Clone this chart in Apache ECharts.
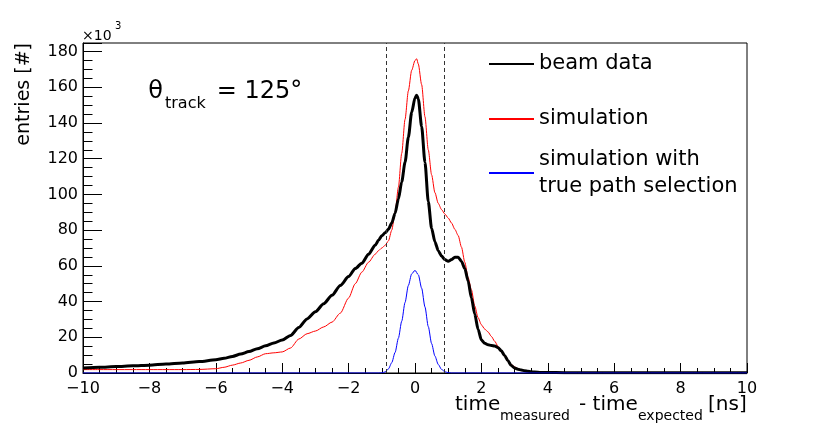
<!DOCTYPE html>
<html>
<head>
<meta charset="utf-8">
<script src="https://cdn.jsdelivr.net/npm/echarts@6.0.0/dist/echarts.min.js"></script>
<style>
html,body{margin:0;padding:0;background:#fff;}
#chart{width:830px;height:429px;}
</style>
</head>
<body>
<div id="chart"></div>
<script>
// time bins (ns)
const xBins = [-10, -9.5, -9, -8.5, -8, -7.5, -7, -6.5, -6, -5.75,
  -5.5, -5.25, -5, -4.75, -4.5, -4.25, -4, -3.75, -3.5, -3.25, -3, -2.75, -2.5, -2.25, -2,
  -1.8, -1.6, -1.4, -1.2, -1.1,
  -1.0, -0.9, -0.8, -0.7, -0.6, -0.5, -0.4, -0.3, -0.2, -0.1,
  0, 0.05,
  0.1, 0.2, 0.3, 0.4, 0.5, 0.6, 0.7, 0.8, 0.9, 1.0, 1.1, 1.2, 1.3, 1.4, 1.5, 1.6, 1.7, 1.8, 1.9,
  2.0, 2.1, 2.2, 2.3, 2.4, 2.5, 2.6, 2.7, 2.8, 2.9, 3.0, 3.1, 3.2, 3.3, 3.4, 3.5,
  3.6, 3.8, 4.0,
  4.5, 5, 6, 7, 8, 9, 10];
// entries (x10^3)
const beamData = [2.8, 3.2, 3.6, 4.0, 4.4, 5.0, 5.6, 6.4, 7.4, 8.2,
  9.3, 10.6, 12.0, 13.6, 15.2, 16.8, 18.5, 21.0, 25.5, 30.3, 34.3, 38.8, 43.5, 49.0, 54.0,
  58.5, 61.5, 66.5, 71.5, 74.3,
  76.8, 78.5, 80.5, 84, 89.5, 97.5, 107, 118, 132, 146,
  154, 155.5,
  153.5, 138, 118, 96, 81, 73.5, 68.5, 65.5, 63.5, 62.6, 63.5, 64.8, 64.8, 62.5, 58.5, 51.5, 42, 33, 24.5,
  18.5, 16.6, 15.8, 15.4, 15.1, 14.2, 12.4, 9.8, 6.8, 4.2, 2.8, 2.1, 1.7, 1.3, 1.0, 0.7,
  0.5, 0.3, 0.3,
  0.2, 0.2, 0.15, 0.1, 0.1, 0.1, 0.1];
const simData = [1.9, 1.9, 1.9, 1.9, 1.9, 1.9, 1.9, 2.0, 2.4, 3.2,
  4.4, 5.6, 7.1, 9.0, 10.8, 11.3, 11.8, 14.0, 19.0, 22.0, 23.5, 25.8, 28.5, 33.5, 42,
  50, 56.5, 62, 66.5, 68.5,
  70, 71.5, 74, 80, 90, 104, 123, 142, 158, 169.5,
  175, 176,
  173, 161.5, 143.5, 125, 111, 101, 95, 91.5, 89, 86.8, 84, 80.5, 77, 70.5, 62, 53.5, 46.5, 37.5, 31,
  27, 24.6, 23, 20.5, 17.8, 15, 12.2, 9.3, 6.5, 4.8, 3.4, 2.5, 1.8, 1.3, 1.0, 0.7,
  0.5, 0.3, 0.2,
  0.1, 0.1, 0.05, 0.05, 0.05, 0.05, 0.05];
const trueX = [-10, -1.1, -1.0, -0.9, -0.8, -0.7, -0.6, -0.5, -0.4, -0.3, -0.2, -0.1, 0,
  0.1, 0.2, 0.3, 0.4, 0.5, 0.6, 0.7, 0.8, 0.9, 1.0, 1.1, 10];
const trueData = [0, 0, 0.1, 0.6, 2.3, 5.8, 11.5, 19.5, 29, 39.5, 49, 55.5, 57.5,
  55, 47.5, 37, 26, 16.5, 9.5, 4.8, 2.0, 0.7, 0.2, 0, 0];
const cutLines = [-0.88, 0.88];
const seriesNames = ['beam data', 'simulation', 'simulation with\ntrue path selection'];

const FONT = 'DejaVu Sans';
const zip = (xs, ys) => xs.map((x, i) => [x, ys[i]]);
const yMax = 184.8;

const chart = echarts.init(document.getElementById('chart'), null, {renderer: 'canvas'});
const legendBase = {
  orient: 'vertical', left: 488, padding: 0, itemWidth: 45, itemHeight: 14, selectedMode: false,
  itemStyle: {opacity: 0, color: 'transparent', borderWidth: 0},
  textStyle: {fontFamily: FONT, fontSize: 21, color: '#000', lineHeight: 24}
};
chart.setOption({
  animation: false,
  backgroundColor: '#fff',
  grid: {left: 83, right: 83, top: 43, bottom: 56, show: true, borderColor: '#000', borderWidth: 1, backgroundColor: 'transparent'},
  legend: [
    Object.assign({}, legendBase, {top: 52, data: [seriesNames[0]]}),
    Object.assign({}, legendBase, {top: 107, data: [seriesNames[1]]}),
    Object.assign({}, legendBase, {top: 146, data: [seriesNames[2]],
      textStyle: {fontFamily: FONT, fontSize: 21, color: '#000', lineHeight: 27}})
  ],
  xAxis: {
    type: 'value', min: -10, max: 10, interval: 2,
    axisLine: {show: true, onZero: false, lineStyle: {color: '#000', width: 1}},
    axisTick: {show: true, inside: true, length: 10, lineStyle: {color: '#000', width: 1}},
    minorTick: {show: true, splitNumber: 4, length: 5, lineStyle: {color: '#000', width: 1}},
    splitLine: {show: false},
    axisLabel: {margin: 8, fontFamily: FONT, fontSize: 16, color: '#000',
      formatter: v => v < 0 ? '\u2212' + (-v) : String(v)}
  },
  yAxis: [
    {
      type: 'value', min: 0, max: yMax, interval: 20, position: 'left',
      axisLine: {show: true, onZero: false, lineStyle: {color: '#000', width: 1}},
      axisTick: {show: true, inside: true, length: 19, lineStyle: {color: '#000', width: 1}},
      splitLine: {show: false},
      axisLabel: {margin: 5, fontFamily: FONT, fontSize: 16, color: '#000',
        formatter: v => (Math.abs(v % 20) < 1e-6 ? String(v) : '')}
    },
    {
      type: 'value', min: 0, max: yMax, interval: 5, position: 'left', offset: 0,
      axisLine: {show: false, onZero: false},
      axisTick: {show: true, inside: true, length: 9.5, lineStyle: {color: '#000', width: 1}},
      splitLine: {show: false},
      axisLabel: {show: false}
    }
  ],
  series: [
    {
      name: seriesNames[1], type: 'line', data: zip(xBins, simData),
      symbol: 'none', smooth: 0.25, smoothMonotone: 'x',
      lineStyle: {color: '#ff0000', width: 1}, itemStyle: {color: '#ff0000'}, z: 2
    },
    {
      name: seriesNames[0], type: 'line', data: zip(xBins, beamData),
      symbol: 'none', smooth: 0.25, smoothMonotone: 'x',
      lineStyle: {color: '#000', width: 3}, itemStyle: {color: '#000'}, z: 3
    },
    {
      name: seriesNames[2], type: 'line', data: zip(trueX, trueData),
      symbol: 'none', smooth: 0.25, smoothMonotone: 'x',
      lineStyle: {color: '#0000ff', width: 1}, itemStyle: {color: '#0000ff'}, z: 4,
      markLine: {
        silent: true, symbol: ['none', 'none'], label: {show: false},
        lineStyle: {type: [4, 3], color: '#333', width: 1},
        data: cutLines.map(v => ({xAxis: v}))
      }
    }
  ],
  graphic: [
    {type: 'text', x: 82, y: 36.7, style: {text: '\u00d710', fontFamily: FONT, fontSize: 14, fill: '#000', textAlign: 'left', textVerticalAlign: 'middle'}},
    {type: 'text', x: 115, y: 26.5, style: {text: '3', fontFamily: FONT, fontSize: 10, fill: '#000', textAlign: 'left', textVerticalAlign: 'middle'}},
    {type: 'text', x: 24, y: 43, rotation: Math.PI / 2, style: {text: 'entries [#]', fontFamily: FONT, fontSize: 19, fill: '#000', textAlign: 'right', textVerticalAlign: 'middle'}},
    {type: 'text', x: 148.3, y: 91.7, style: {text: '\u03b8', fontFamily: FONT, fontSize: 24, fill: '#000', textAlign: 'left', textVerticalAlign: 'middle'}},
    {type: 'text', x: 165, y: 103.5, style: {text: 'track', fontFamily: FONT, fontSize: 16, fill: '#000', textAlign: 'left', textVerticalAlign: 'middle'}},
    {type: 'text', x: 216.7, y: 91.7, style: {text: '= 125\u00b0', fontFamily: FONT, fontSize: 24, fill: '#000', textAlign: 'left', textVerticalAlign: 'middle'}},
    {type: 'text', x: 455, y: 404.8, style: {text: 'time', fontFamily: FONT, fontSize: 20, fill: '#000', textAlign: 'left', textVerticalAlign: 'middle'}},
    {type: 'text', x: 500, y: 415.9, style: {text: 'measured', fontFamily: FONT, fontSize: 14, fill: '#000', textAlign: 'left', textVerticalAlign: 'middle'}},
    {type: 'text', x: 579, y: 404.8, style: {text: '- time', fontFamily: FONT, fontSize: 20, fill: '#000', textAlign: 'left', textVerticalAlign: 'middle'}},
    {type: 'text', x: 638, y: 415.9, style: {text: 'expected', fontFamily: FONT, fontSize: 14, fill: '#000', textAlign: 'left', textVerticalAlign: 'middle'}},
    {type: 'text', x: 746.7, y: 404.8, style: {text: '[ns]', fontFamily: FONT, fontSize: 20, fill: '#000', textAlign: 'right', textVerticalAlign: 'middle'}}
  ]
});
</script>
</body>
</html>
